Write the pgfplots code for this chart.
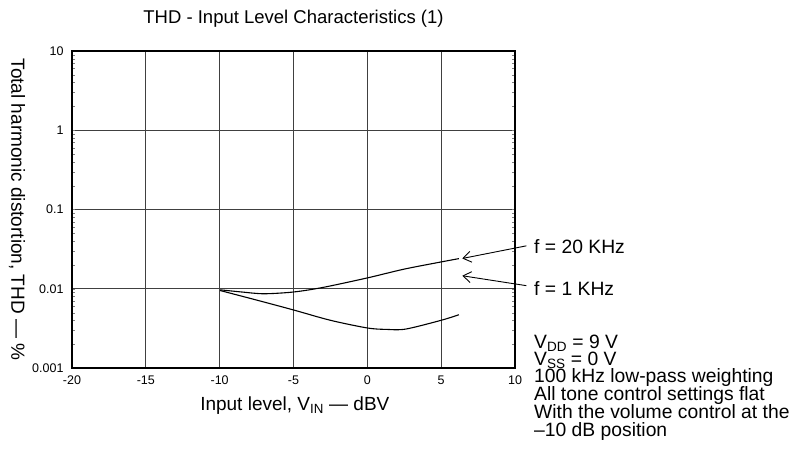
\documentclass[border=0pt]{standalone}
\usepackage{fontspec}
\setmainfont{Liberation Sans}
\usepackage{pgfplots}
\pgfplotsset{compat=1.18}
\usetikzlibrary{arrows.meta}

\begin{document}
\begin{tikzpicture}[x=1pt,y=1pt]
% page frame: 794 x 466, origin at the axis' lower left corner
\useasboundingbox (-72,-98) rectangle (722,368);
\begin{axis}[
    at={(0,0)}, anchor=south west,
    scale only axis,
    width=443pt, height=317pt,
    xmin=-20, xmax=10,
    ymin=0.001, ymax=10,
    ymode=log,
    clip=false,
    axis line style={black, line width=1.3pt},
    grid=major,
    major grid style={black!75, line width=0.9pt},
    major tick length=0pt,
    xtick={-20,-15,-10,-5,0,5,10},
    xticklabels={-20,-15,-10,-5,0,5,10},
    ytick={0.001,0.01,0.1,1,10},
    yticklabels={0.001,0.01,0.1,1,10},
    tick label style={font=\fontsize{12.5}{14}\selectfont},
    xticklabel style={yshift=-4pt},
    yticklabel style={xshift=-5pt},
    title={THD - Input Level Characteristics (1)},
    title style={font=\fontsize{18.5}{20}\selectfont, at={(axis description cs:0.5,1.084)}, anchor=center},
    xlabel={Input level, V\textsubscript{IN} — dBV},
    xlabel style={font=\fontsize{19}{21}\selectfont, at={(axis description cs:0.503,-0.117)}, anchor=center},
    ylabel={Total harmonic distortion, THD — \%},
    ylabel style={font=\fontsize{19}{21}\selectfont, rotate=180, at={(axis description cs:-0.124,0.5)}, anchor=center},
]
% f = 20 kHz
\addplot[black, line width=1.1pt, smooth] coordinates {
    (-9.97, 0.0097) (-8.5, 0.0091) (-7, 0.00865) (-5, 0.0091)
    (-3, 0.0104) (0, 0.0137) (2.5, 0.0177) (5, 0.0218) (6.2, 0.0240)
};
% f = 1 kHz
\addplot[black, line width=1.1pt, smooth] coordinates {
    (-9.97, 0.0095) (-7.5, 0.0072) (-5, 0.0054) (-2.5, 0.0040)
    (0, 0.0032) (1.3, 0.00307) (2.6, 0.0031) (5, 0.0040) (6.2, 0.0047)
};
% annotations
\draw[line width=0.9pt, -{Straight Barb[length=8pt,width=11pt]}]
    (axis cs:10.77,0.0348) -- (axis cs:6.43,0.0241);
\draw[line width=0.9pt, -{Straight Barb[length=8pt,width=11pt]}]
    (axis cs:10.77,0.01094) -- (axis cs:6.43,0.01459);
\end{axis}
\begin{scope}[every node/.style={font=\fontsize{19.3}{18}\selectfont, anchor=base west, inner sep=0pt}]
\node at (462,368-253) {f = 20 KHz};
\node at (462,368-295) {f = 1 KHz};
\node at (462,368-348) {V\textsubscript{DD} = 9 V};
\node at (462,368-365) {V\textsubscript{SS} = 0 V};
\node at (462,368-382) {100 kHz low-pass weighting};
\node at (462,368-400) {All tone control settings flat};
\node at (462,368-418) {With the volume control at the};
\node at (462,368-436) {–10 dB position};
\end{scope}
\end{tikzpicture}
\end{document}
